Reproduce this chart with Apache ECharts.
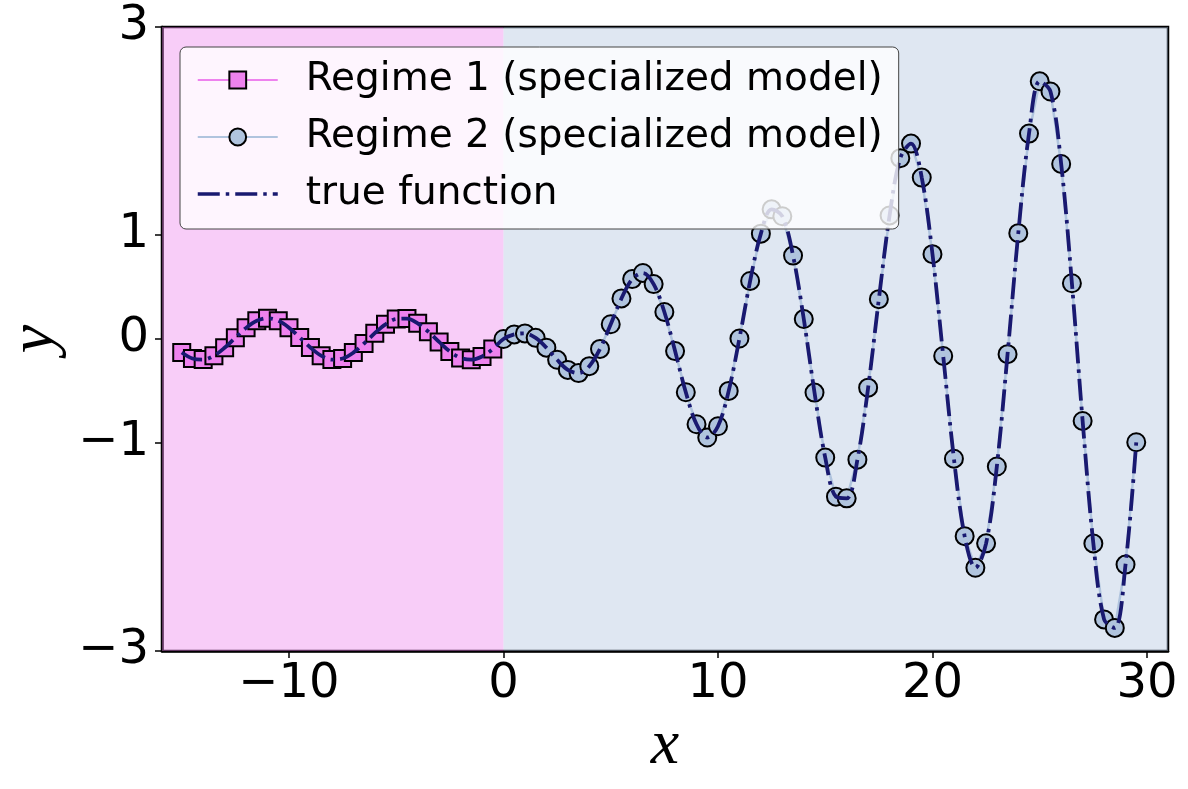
<!DOCTYPE html>
<html>
<head>
<meta charset="utf-8">
<script src="https://cdn.jsdelivr.net/npm/echarts@6/dist/echarts.min.js"></script>
<style>
  html, body { margin: 0; padding: 0; background: #fff; }
  #chart { width: 1188px; height: 789px; }
</style>
</head>
<body>
<div id="chart"></div>
<script>
// regime 1 samples (x < 0)
let regime1X = [-15, -14.5, -14, -13.5, -13, -12.5, -12, -11.5, -11, -10.5, -10, -9.5, -9, -8.5, -8, -7.5, -7, -6.5, -6, -5.5, -5, -4.5, -4, -3.5, -3, -2.5, -2, -1.5, -1, -0.5];
let regime1Y = [-0.13, -0.187, -0.198, -0.161, -0.084, 0.013, 0.107, 0.175, 0.2, 0.176, 0.109, 0.015, -0.082, -0.16, -0.198, -0.188, -0.131, -0.043, 0.056, 0.141, 0.192, 0.196, 0.151, 0.07, -0.028, -0.12, -0.182, -0.199, -0.168, -0.096];
// regime 2 samples (x >= 0)
let regime2X = [0, 0.5, 1, 1.5, 2, 2.5, 3, 3.5, 4, 4.5, 5, 5.5, 6, 6.5, 7, 7.5, 8, 8.5, 9, 9.5, 10, 10.5, 11, 11.5, 12, 12.5, 13, 13.5, 14, 14.5, 15, 15.5, 16, 16.5, 17, 17.5, 18, 18.5, 19, 19.5, 20, 20.5, 21, 21.5, 22, 22.5, 23, 23.5, 24, 24.5, 25, 25.5, 26, 26.5, 27, 27.5, 28, 28.5, 29, 29.5];
let regime2Y = [0, 0.044, 0.054, 0.011, -0.083, -0.2, -0.297, -0.328, -0.261, -0.095, 0.142, 0.39, 0.576, 0.635, 0.528, 0.26, -0.116, -0.512, -0.82, -0.947, -0.839, -0.499, 0.005, 0.558, 1.013, 1.247, 1.18, 0.802, 0.192, -0.515, -1.14, -1.516, -1.532, -1.16, -0.468, 0.383, 1.188, 1.739, 1.879, 1.552, 0.816, -0.163, -1.151, -1.896, -2.2, -1.965, -1.226, -0.146, 1.018, 1.975, 2.478, 2.38, 1.683, 0.536, -0.788, -1.966, -2.696, -2.778, -2.169, -0.993];
let xTicks = [-10, 0, 10, 20, 30];
let yTicks = [-3, -1, 0, 1, 3];
let names = ["Regime 1 (specialized model)", "Regime 2 (specialized model)", "true function"];

let xMin = -15.92, xMax = 30.98;

let pairs = function (xs, ys) {
  return xs.map(function (x, i) { return [x, ys[i]]; });
};
let r1 = pairs(regime1X, regime1Y);
let r2 = pairs(regime2X, regime2Y);
let minus = function (v) { return String(v).replace('-', '\u2212'); };
let trueDash = [22, 6, 3.5, 6];

let chart = echarts.init(document.getElementById('chart'));
chart.setOption({
  animation: false,
  backgroundColor: '#ffffff',
  grid: {
    left: 162, right: 20, top: 27, bottom: 138,
    containLabel: false, outerBoundsMode: 'none',
    show: true, borderColor: '#000', borderWidth: 2.5, backgroundColor: 'transparent'
  },
  legend: {
    data: [
      names[0],
      names[1],
      {
        name: names[2],
        itemStyle: { color: 'rgba(0,0,0,0)', borderColor: 'rgba(0,0,0,0)', borderWidth: 0 },
        lineStyle: { color: '#191970', width: 3.5, type: trueDash }
      }
    ],
    orient: 'vertical',
    left: 180, top: 47,
    itemWidth: 80, itemHeight: 21, itemGap: 17,
    padding: [13, 16, 15, 16],
    backgroundColor: 'rgba(255,255,255,0.8)',
    borderColor: '#444', borderWidth: 1, borderRadius: 6,
    textStyle: {
      fontFamily: 'DejaVu Sans', fontSize: 39, color: '#000',
      lineHeight: 40, padding: [0, 0, 0, 23]
    }
  },
  xAxis: {
    type: 'value', min: xMin, max: xMax,
    name: 'x', nameLocation: 'middle', nameGap: 62,
    nameTextStyle: { fontFamily: 'Liberation Serif', fontStyle: 'italic', fontSize: 64, color: '#000' },
    axisLine: { show: true, onZero: false, lineStyle: { color: '#000', width: 2.5 } },
    axisTick: { show: true, customValues: xTicks, length: 7, lineStyle: { color: '#000', width: 1.5 } },
    axisLabel: { customValues: xTicks, margin: 10, fontFamily: 'DejaVu Sans', fontSize: 48, color: '#000', formatter: minus },
    splitLine: { show: false }
  },
  yAxis: {
    type: 'value', min: -3, max: 3,
    name: 'y', nameLocation: 'middle', nameGap: 94,
    nameTextStyle: { fontFamily: 'Liberation Serif', fontStyle: 'italic', fontSize: 64, color: '#000' },
    axisLine: { show: true, onZero: false, lineStyle: { color: '#000', width: 2.5 } },
    axisTick: { show: true, customValues: yTicks, length: 7, lineStyle: { color: '#000', width: 1.5 } },
    axisLabel: { customValues: yTicks, margin: 13, fontFamily: 'DejaVu Sans', fontSize: 48, color: '#000', formatter: minus },
    splitLine: { show: false }
  },
  series: [
    {
      // shaded regimes behind everything
      type: 'line', data: [], z: 1, silent: true,
      markArea: {
        silent: true,
        data: [
          [{ xAxis: xMin, itemStyle: { color: 'rgba(238,130,238,0.4)' } }, { xAxis: 0 }],
          [{ xAxis: 0, itemStyle: { color: 'rgba(176,196,222,0.4)' } }, { xAxis: xMax }]
        ]
      }
    },
    {
      name: names[0], type: 'line', data: r1, z: 2,
      symbol: 'rect', symbolSize: 17,
      itemStyle: { color: '#EE82EE', borderColor: '#000', borderWidth: 2 },
      lineStyle: { color: '#EE82EE', width: 2.5 }
    },
    {
      name: names[1], type: 'line', data: r2, z: 2,
      symbol: 'circle', symbolSize: 18,
      itemStyle: { color: '#B0C4DE', borderColor: '#000', borderWidth: 2 },
      lineStyle: { color: '#B0C4DE', width: 2.5 }
    },
    {
      name: names[2], type: 'line', data: r1.concat(r2), z: 3,
      symbol: 'none', smooth: 0.35,
      itemStyle: { color: '#191970' },
      lineStyle: { color: '#191970', width: 3.8, type: trueDash }
    }
  ]
});
</script>
</body>
</html>
